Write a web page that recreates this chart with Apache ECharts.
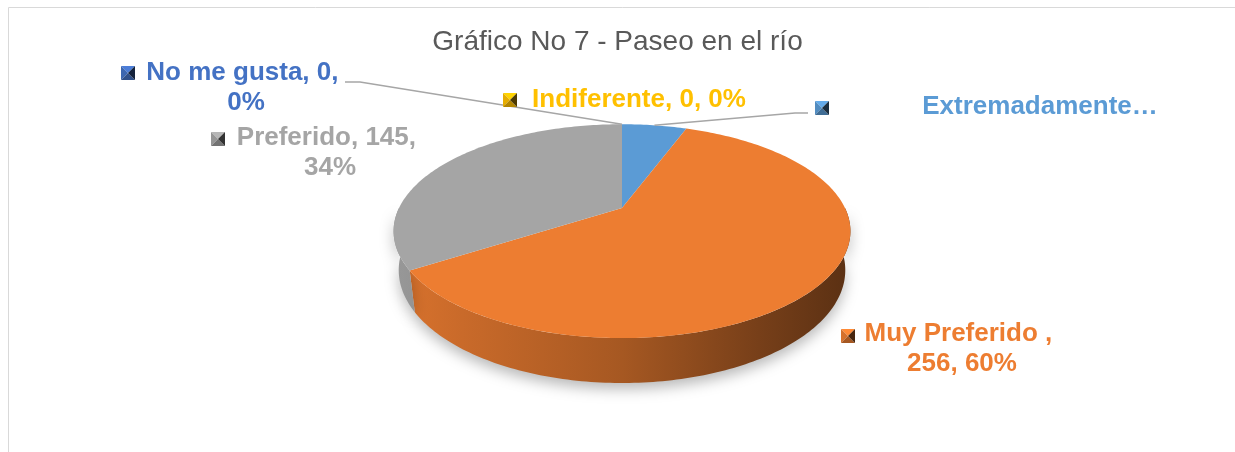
<!DOCTYPE html>
<html>
<head>
<meta charset="utf-8">
<script src="https://cdn.jsdelivr.net/npm/echarts@6/dist/echarts.min.js"></script>
<style>
html, body { margin: 0; padding: 0; background: #fff; }
#chart { width: 1235px; height: 452px; }
</style>
</head>
<body>
<div id="chart"></div>
<script>
const categories = ['Extremadamente Preferido', 'Muy Preferido ', 'Preferido', 'Indiferente', 'No me gusta'];
const values = [24, 256, 145, 0, 0];
const colors = ['#5B9BD5', '#ED7D31', '#A5A5A5', '#FFC000', '#4472C4'];

// Excel-style manual label placement: text centre x / top y, wrap width, legend key centre, leader end
const labelLayout = [
  { x: 1040, y: 92, width: 238, overflow: 'truncate', marker: [822, 108], leader: [[808, 113], [795, 113]] },
  { x: 962, y: 319, width: 200, overflow: 'break', marker: [848, 336] },
  { x: 330, y: 123, width: 200, overflow: 'break', marker: [218, 139] },
  { x: 639, y: 85, width: 240, overflow: 'break', marker: [510, 100] },
  { x: 246, y: 58, width: 200, overflow: 'break', marker: [128, 73], leader: [[345, 82], [360, 82]] }
];

// 3d pie look: centre, radius in px, tilt, perspective, thickness
const pie = { cx: 622, cy: 208, scale: 223, sinA: 0.457, cosA: 0.889, persp: 0.2436, depth: 0.197 };

function project(theta, z, r) {
  if (r === undefined) r = 1;
  const X = r * Math.sin(theta), Y = r * Math.cos(theta);
  const w = 1 + pie.persp * (Y * pie.cosA - z * pie.sinA);
  return [pie.cx + pie.scale * X / w, pie.cy - pie.scale * (Y * pie.sinA + z * pie.cosA) / w];
}

function shade(hex, f) {
  const n = parseInt(hex.slice(1), 16);
  const c = [(n >> 16) & 255, (n >> 8) & 255, n & 255].map(v => Math.max(0, Math.min(255, Math.round(v * f))));
  return 'rgb(' + c.join(',') + ')';
}

const total = values.reduce((a, b) => a + b, 0);
const starts = [];
let acc = 0;
values.forEach(v => { starts.push(acc); acc += v; });

// horizontal extent of pie, for wall lighting
let minX = Infinity, maxX = -Infinity;
for (let k = 0; k < 360; k++) {
  const p = project(k * Math.PI / 180, 0);
  minX = Math.min(minX, p[0]); maxX = Math.max(maxX, p[0]);
}

function wallFill(color) {
  return {
    type: 'linear', x: minX, y: 0, x2: maxX, y2: 0, global: true,
    colorStops: [
      { offset: 0, color: shade(color, 0.92) },
      { offset: 0.15, color: shade(color, 0.85) },
      { offset: 0.5, color: shade(color, 0.7) },
      { offset: 0.8, color: shade(color, 0.5) },
      { offset: 1, color: shade(color, 0.38) }
    ]
  };
}

function renderItem(params, api) {
  const i = params.dataIndex;
  const v = api.value(0);
  const a0 = starts[i] / total * 2 * Math.PI;
  const a1 = (starts[i] + v) / total * 2 * Math.PI;
  const children = [];
  const step = Math.PI / 180;

  if (v > 0) {
    // top face
    const n = Math.max(2, Math.ceil((a1 - a0) / step));
    const top = [[pie.cx, pie.cy]];
    for (let k = 0; k <= n; k++) top.push(project(a0 + (a1 - a0) * k / n, 0));
    children.push({ type: 'polygon', z2: 10, shape: { points: top }, style: { fill: colors[i] } });

    // front wall (back part is hidden by the top anyway)
    const w0 = Math.max(a0, Math.PI / 2), w1 = Math.min(a1, Math.PI * 1.5);
    if (w1 > w0) {
      const m = Math.max(2, Math.ceil((w1 - w0) / step));
      const upper = [], lower = [];
      for (let k = 0; k <= m; k++) {
        const t = w0 + (w1 - w0) * k / m;
        upper.push(project(t, 0));
        lower.push(project(t, -pie.depth));
      }
      children.push({
        type: 'polygon', z2: 1,
        shape: { points: upper.concat(lower.reverse()) },
        style: { fill: wallFill(colors[i]), shadowBlur: 14, shadowOffsetY: 6, shadowColor: 'rgba(0,0,0,0.28)' }
      });
    }
  }

  // data label with legend key
  const L = labelLayout[i];
  const pct = Math.round(v / total * 100);
  const [mx, my] = L.marker;
  const h = 7;
  const c = colors[i];
  const tri = (pts, fill) => ({ type: 'polygon', z2: 20, shape: { points: pts }, style: { fill } });
  children.push(
    tri([[mx - h, my - h], [mx + h, my - h], [mx, my]], shade(c, 1.1)),
    tri([[mx - h, my - h], [mx - h, my + h], [mx, my]], shade(c, 0.9)),
    tri([[mx - h, my + h], [mx + h, my + h], [mx, my]], shade(c, 0.7)),
    tri([[mx + h, my - h], [mx + h, my + h], [mx, my]], shade(c, 0.3))
  );
  children.push({
    type: 'text', z2: 20,
    style: {
      text: api.value(1) + ', ' + v + ', ' + pct + '%',
      x: L.x, y: L.y, align: 'center', verticalAlign: 'top',
      width: L.width, overflow: L.overflow, ellipsis: '…', lineHeight: 30,
      font: 'bold 26px "Liberation Sans", Arial, sans-serif', fill: c
    }
  });
  if (L.leader) {
    const mid = (a0 + a1) / 2;
    children.push({
      type: 'polyline', z2: 15,
      shape: { points: L.leader.concat([project(mid, 0)]) },
      style: { stroke: '#A6A6A6', lineWidth: 1.5, fill: null }
    });
  }
  return { type: 'group', children };
}

const chart = echarts.init(document.getElementById('chart'));
chart.setOption({
  animation: false,
  title: {
    text: 'Gráfico No 7 - Paseo en el río',
    left: 'center',
    top: 23,
    textStyle: { fontFamily: '"Liberation Sans", Arial, sans-serif', fontSize: 28, fontWeight: 'normal', color: '#595959' }
  },
  graphic: [{
    type: 'rect', silent: true, z: -10,
    shape: { x: 8.5, y: 7.5, width: 1400, height: 600 },
    style: { fill: 'none', stroke: '#D9D9D9', lineWidth: 1 }
  }],
  series: [{
    type: 'custom',
    coordinateSystem: 'none',
    silent: true,
    renderItem: renderItem,
    dimensions: ['value', 'name'],
    data: values.map((v, i) => [v, categories[i]])
  }]
});
</script>
</body>
</html>
